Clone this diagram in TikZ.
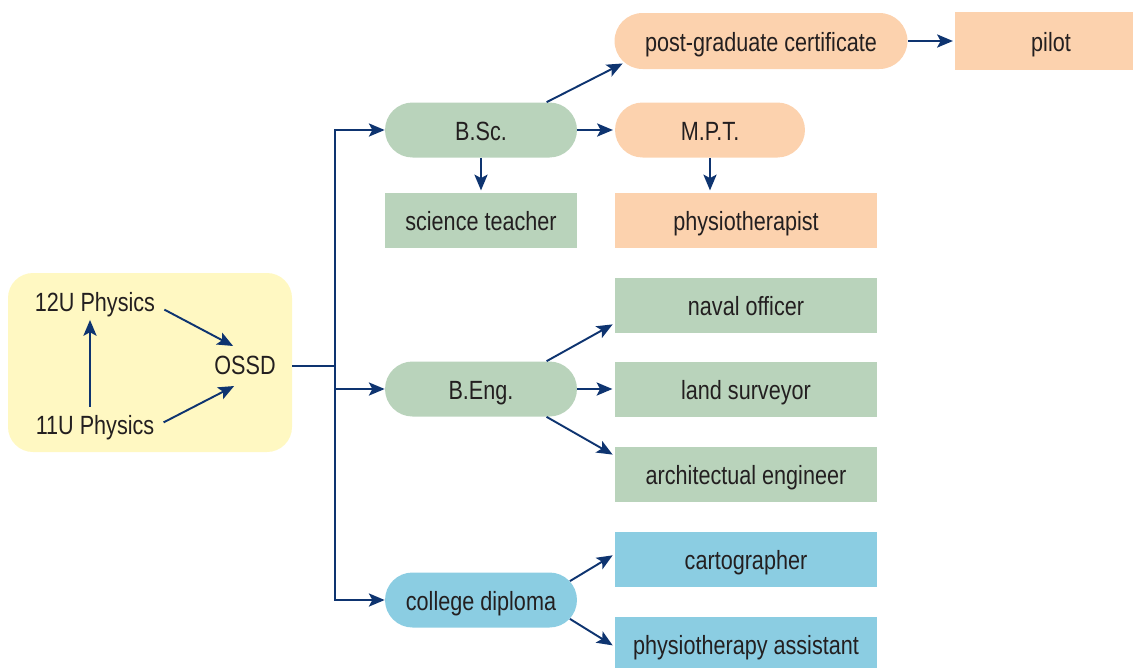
\documentclass[tikz,border=0pt]{standalone}
\usepackage{fontspec}
\setmainfont{Liberation Sans}[FakeStretch=0.82]
\usepackage{tikz}
\usetikzlibrary{arrows.meta,shapes.misc}

\definecolor{navy}{HTML}{0E3470}
\definecolor{ink}{HTML}{231F20}
\definecolor{yellowbg}{HTML}{FFF8C2}
\definecolor{sage}{HTML}{B9D3BB}
\definecolor{peach}{HTML}{FCD2AE}
\definecolor{sky}{HTML}{8BCDE2}

\begin{document}
\begin{tikzpicture}[x=0.02cm,y=-0.02cm,
  every node/.style={text=ink,font=\fontsize{15}{17}\selectfont,text height=12.5pt,text depth=0pt},
  pill/.style={rounded rectangle,minimum width=3.84cm,minimum height=1.1cm,inner sep=0pt},
  job/.style={rectangle,minimum width=5.26cm,minimum height=1.1cm,inner sep=0pt},
  arr/.style={draw=navy,line width=1.1pt,-{Stealth[length=9pt,width=7.5pt,inset=2pt]}},
  link/.style={draw=navy,line width=1.1pt}]
\useasboundingbox (0,0) rectangle (1133,667);
\clip (0,0) rectangle (1133,667);
\fill[yellowbg,rounded corners=0.5cm] (8,273) rectangle (292,452);
\path (8,273) coordinate (boxnw) (292,452) coordinate (boxse);
\draw (95,301) node (u12) {12U Physics};
\draw (95,424) node (u11) {11U Physics};
\draw (245,364) node (ossd) {OSSD};
\coordinate (trunk) at (335,366);
% degrees
\draw (481,130) node[pill,fill=sage] (bsc) {B.Sc.};
	\draw (481,220) node[job,minimum width=3.84cm,fill=sage] (teacher) {science teacher};
	\draw (761,41) node[pill,fill=peach,minimum width=5.86cm,minimum height=1.12cm] (pgc) {post-graduate certificate};
		\draw (1051,41) node[job,minimum width=3.84cm,minimum height=1.16cm,fill=peach] (pilot) {pilot};
	\draw (710,130) node[pill,fill=peach,minimum width=3.8cm] (mpt) {M.P.T.};
		\draw (746,220) node[job,fill=peach] (physio) {physiotherapist};
\draw (481,389) node[pill,fill=sage] (beng) {B.Eng.};
	\draw (746,305) node[job,fill=sage] (naval) {naval officer};
	\draw (746,389) node[job,fill=sage] (surveyor) {land surveyor};
	\draw (746,474) node[job,fill=sage] (archeng) {architectual engineer};
\draw (481,600) node[pill,fill=sky] (college) {college diploma};
	\draw (746,559) node[job,fill=sky] (carto) {cartographer};
	\draw (746,644) node[job,fill=sky] (assistant) {physiotherapy assistant};

% inside the yellow box
\draw[arr,shorten >=1pt] ([xshift=-0.1cm]u11.north) -- ([xshift=-0.1cm]u12.south);
\draw[arr,shorten <=2pt,shorten >=1pt] (u12.-6) -- (ossd.121);
\draw[arr,shorten <=2pt,shorten >=6pt] (u11.east) -- (ossd.265);
\draw[link] (boxse |- trunk) -- (trunk);
\draw[arr] (trunk) |- (bsc.west);
\draw[arr] (trunk) |- (beng.west);
\draw[arr] (trunk) |- (college.west);

\draw[arr,shorten >=1pt] (bsc.23) -- (pgc.189);
\draw[arr,shorten >=1pt] (bsc.east) -- (mpt.west);
\draw[arr,shorten >=1pt] (bsc.south) -- (teacher.north);
\draw[arr,shorten >=1pt] (pgc.east) -- (pilot.west);
\draw[arr,shorten >=1pt] (mpt.south) -- (mpt.south |- physio.north);
\draw[arr,shorten >=1pt] (beng.23) -- (naval.188);
\draw[arr,shorten >=1pt] (beng.east) -- (surveyor.west);
\draw[arr,shorten >=1pt] (beng.-23) -- (archeng.172);
\draw[arr,shorten >=1pt] (college.12) -- (carto.178);
\draw[arr,shorten >=1pt] (college.-12) -- (assistant.181);
\end{tikzpicture}
\end{document}
